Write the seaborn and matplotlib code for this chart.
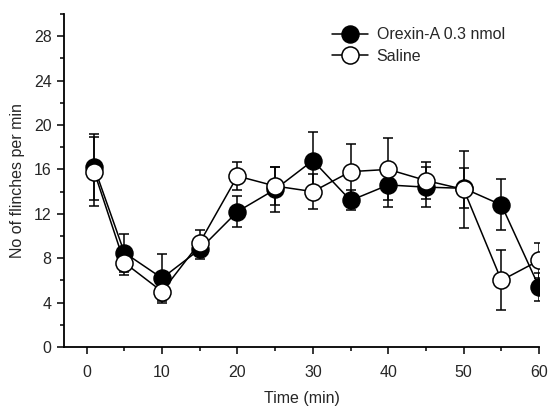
import numpy as np
import pandas as pd
import matplotlib
matplotlib.use("Agg")
import matplotlib.pyplot as plt
import seaborn as sns
from matplotlib.ticker import MultipleLocator

time = [1, 5, 10, 15, 20, 25, 30, 35, 40, 45, 50, 55, 60]
orexin = [16.2, 8.5, 6.2, 8.8, 12.2, 14.2, 16.8, 13.2, 14.6, 14.4, 14.3, 12.8, 5.4]
orexin_se = [3.0, 1.7, 2.2, 0.9, 1.4, 2.0, 2.6, 0.9, 2.0, 1.8, 1.8, 2.3, 1.3]
saline = [15.8, 7.6, 5.0, 9.4, 15.4, 14.5, 14.0, 15.8, 16.0, 15.0, 14.2, 6.0, 7.8]
saline_se = [3.1, 1.1, 0.9, 1.1, 1.3, 1.7, 1.6, 2.5, 2.8, 1.7, 3.5, 2.7, 1.6]
labels = ["Orexin-A 0.3 nmol", "Saline"]

sns.set_style("ticks")
plt.rcParams['font.family'] = ['Liberation Sans', 'DejaVu Sans']

fig = plt.figure(figsize=(5.49, 4.07), dpi=100)
ax = fig.add_axes([0.1166, 0.1474, 0.8654, 0.8182])

ms = 12.3
ax.errorbar(time, orexin, yerr=orexin_se, fmt='none', ecolor='black',
            elinewidth=1.1, capsize=3.6, capthick=1.1, zorder=2)
ax.errorbar(time, saline, yerr=saline_se, fmt='none', ecolor='black',
            elinewidth=1.1, capsize=3.6, capthick=1.1, zorder=2)

sns.lineplot(x=time, y=orexin, ax=ax, color='black', lw=1.1, marker='o', ms=ms,
             markerfacecolor='black', markeredgecolor='black', markeredgewidth=1.0,
             zorder=3, label=labels[0])
sns.lineplot(x=time, y=saline, ax=ax, color='black', lw=1.1, marker='o', ms=ms,
             markerfacecolor='white', markeredgecolor='black', markeredgewidth=1.1,
             zorder=4, label=labels[1])

ax.set_xlim(-3, 60)
ax.set_ylim(0, 30)
ax.xaxis.set_major_locator(MultipleLocator(10))
ax.xaxis.set_minor_locator(MultipleLocator(5))
ax.set_yticks([0, 4, 8, 12, 16, 20, 24, 28])
ax.yaxis.set_minor_locator(MultipleLocator(2))
ax.tick_params(axis='both', which='major', length=5, width=1.1, labelsize=11.5, color='black')
ax.tick_params(axis='both', which='minor', length=3, width=1.1, color='black')
ax.tick_params(axis='x', pad=8)
ax.tick_params(axis='y', pad=4)
sns.despine(ax=ax)
for s in ['left', 'bottom']:
    ax.spines[s].set_linewidth(1.3)
    ax.spines[s].set_color('black')

ax.set_xlabel("Time (min)", fontsize=11.5, labelpad=8)
ax.set_ylabel("No of flinches per min", fontsize=11.5, labelpad=6)

leg = ax.legend(loc='upper left', bbox_to_anchor=(0.564, 0.96), frameon=False,
                fontsize=11.5, handlelength=2.25, handletextpad=0.55,
                labelspacing=0.4, borderaxespad=0, borderpad=0)

fig.savefig("out.png", dpi=100)
